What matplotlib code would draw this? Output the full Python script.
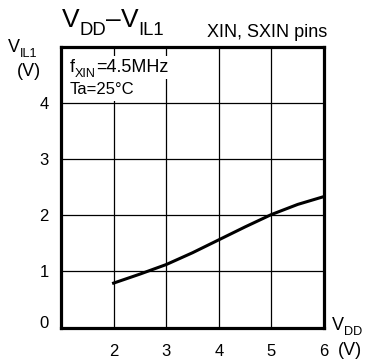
import numpy as np
import matplotlib
matplotlib.use("Agg")
import matplotlib.pyplot as plt

plt.rcParams['font.family'] = ['Liberation Sans', 'DejaVu Sans']

# V_DD - V_IL1 curve
vdd = [2.0, 2.5, 3.0, 3.5, 4.0, 4.5, 5.0, 5.5, 6.0]
vil1 = [0.79, 0.95, 1.12, 1.33, 1.56, 1.79, 2.01, 2.19, 2.33]
xticks = [2, 3, 4, 5, 6]
yticks = [0, 1, 2, 3, 4]

W, H = 367, 362
fig = plt.figure(figsize=(W / 100, H / 100), dpi=100)
ax = fig.add_axes([61 / W, 1 - 327.5 / H, (324 - 61) / W, (327.5 - 46.5) / H])
renderer = fig.canvas.get_renderer()

ax.set_xlim(1, 6)
ax.set_ylim(0, 5)
for x in [2, 3, 4, 5]:
    ax.axvline(x, color='black', lw=0.9, zorder=1)
for y in [1, 2, 3, 4]:
    ax.axhline(y, color='black', lw=0.9, zorder=1)

ax.plot(vdd, vil1, color='black', lw=2.2, zorder=3)

for s in ax.spines.values():
    s.set_linewidth(2.3)

ax.set_xticks(xticks)
ax.set_yticks(yticks)
ax.tick_params(length=0, labelsize=12)
ax.tick_params(axis='x', pad=12)
ax.tick_params(axis='y', pad=9)
ax.get_yticklabels()[0].set_va('baseline')


def label(x, y, parts, size, box=False):
    # pixel position of the baseline; parts = (text, subscript?)
    for s, sub in parts:
        fs = size * 0.7 if sub else size
        dy = 0.3 * size * 100 / 72 if sub else 0
        pos = (x / W, 1 - (y + dy) / H)
        if box:
            # white patch behind the text hides the grid
            fig.text(*pos, s, fontsize=fs, va='baseline', ha='left', color='none', zorder=2,
                     bbox=dict(facecolor='white', edgecolor='none', pad=2.5))
        t = fig.text(*pos, s, fontsize=fs, va='baseline', ha='left', zorder=3)
        x += t.get_window_extent(renderer).width
    return x


label(62, 27, [('V', 0), ('DD', 1), ('–', 0), ('V', 0), ('IL1', 1)], 19)
label(207, 37, [('XIN, SXIN pins', 0)], 13)
label(8, 52, [('V', 0), ('IL1', 1)], 13)
label(17, 76, [('(V)', 0)], 13)
label(70, 72, [('f', 0), ('XIN', 1), ('=4.5MHz', 0)], 13, box=True)
label(70, 94, [('Ta=25°C', 0)], 12, box=True)
label(332, 330, [('V', 0), ('DD', 1)], 13)
label(338, 355, [('(V)', 0)], 13)

fig.savefig('out.png', dpi=100)
